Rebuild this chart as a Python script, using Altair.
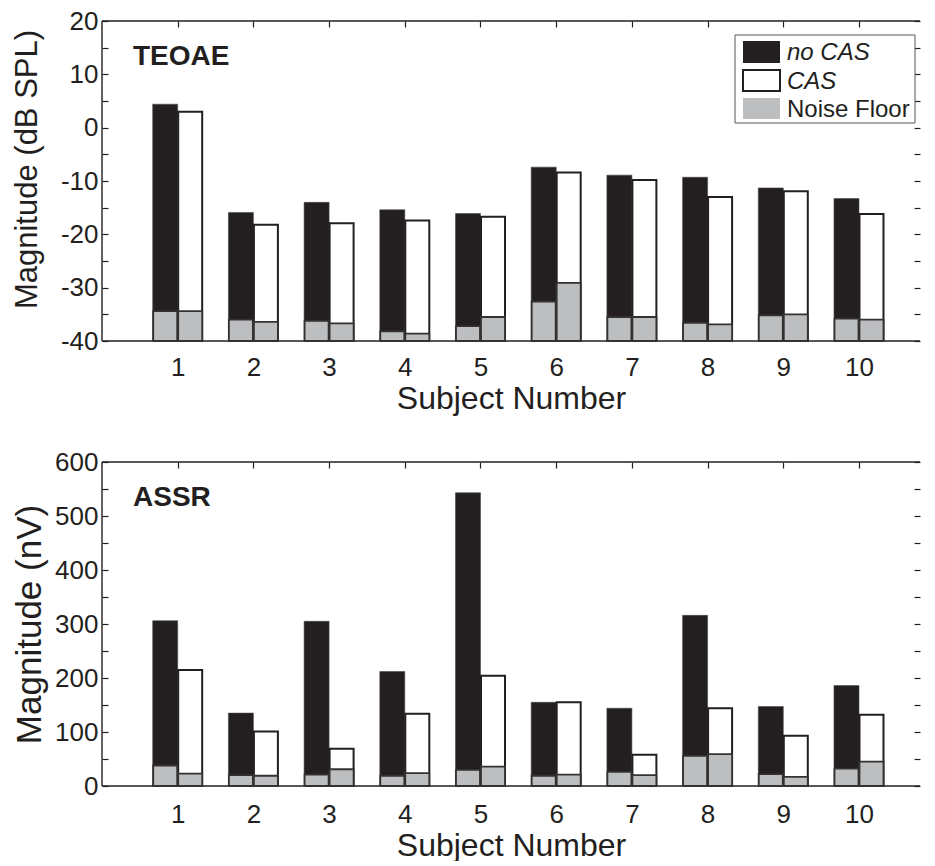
import altair as alt
import pandas as pd

subjects = [1, 2, 3, 4, 5, 6, 7, 8, 9, 10]

teoae_nocas = [4.4, -15.9, -14.0, -15.4, -16.1, -7.4, -8.9, -9.3, -11.3, -13.3]
teoae_cas = [3.0, -18.2, -17.9, -17.4, -16.7, -8.4, -9.8, -13.0, -11.9, -16.2]
teoae_noise_nocas = [-34.4, -36.0, -36.2, -38.2, -37.2, -32.6, -35.5, -36.6, -35.2, -35.8]
teoae_noise_cas = [-34.4, -36.4, -36.7, -38.6, -35.5, -29.1, -35.5, -36.9, -35.0, -36.0]

assr_nocas = [306, 135, 305, 212, 543, 155, 144, 316, 147, 186]
assr_cas = [215, 101, 69, 134, 204, 155, 58, 144, 93, 132]
assr_noise_nocas = [38, 20, 21, 19, 30, 19, 26, 56, 22, 32]
assr_noise_cas = [23, 19, 31, 24, 36, 21, 20, 59, 17, 45]

legend_labels = ["no CAS", "CAS", "Noise Floor"]
panel_labels = ["TEOAE", "ASSR"]
x_title = "Subject Number"
y_titles = ["Magnitude (dB SPL)", "Magnitude (nV)"]

BLACK = "#231f20"
GRAY = "#bcbec0"
FONT = "Liberation Sans"
W = 818
XMAX = 10.806
TICK = 6


def panel(nocas, cas, n_nocas, n_cas, ymin, ymax, step, lstep, height,
          ytitle, label, legend, label_pad, title_pad, ytitle_size,
          ytitle_pad, ytitle_y):
    df = pd.DataFrame({
        "subject": subjects, "nocas": nocas, "cas": cas,
        "n_nocas": n_nocas, "n_cas": n_cas,
    })
    yvals = list(range(ymin, ymax + 1, step))
    xscale = alt.Scale(domain=[0, XMAX], nice=False, zero=False, padding=0)
    yscale = alt.Scale(domain=[ymin, ymax], nice=False, zero=False)
    lexpr = f"datum.value % {lstep} == 0 ? toString(datum.value) : ''"

    ax_bottom = alt.Axis(values=subjects, title=x_title, orient="bottom",
                         offset=-TICK, tickSize=TICK, domain=False, grid=False,
                         labelPadding=label_pad, titlePadding=title_pad,
                         labelAngle=0)
    left_kw = dict(values=yvals, labelExpr=lexpr, title=ytitle,
                   orient="left", offset=-TICK, tickSize=TICK,
                   domain=False, grid=False, labelPadding=4,
                   titlePadding=ytitle_pad, titleFontSize=ytitle_size,
                   minExtent=56, maxExtent=56)
    if ytitle_y is not None:
        left_kw["titleY"] = ytitle_y
    ax_left = alt.Axis(**left_kw)
    ax_top = alt.Axis(values=subjects, labels=False, title=None, orient="top",
                      offset=-TICK, tickSize=TICK, domain=False, grid=False,
                      minExtent=0, maxExtent=0)
    ax_right = alt.Axis(values=yvals, labels=False, title=None, orient="right",
                        offset=-TICK, tickSize=TICK, domain=False, grid=False,
                        minExtent=0, maxExtent=0)

    base = alt.Chart(df)
    b1 = base.mark_bar(width=25, xOffset=-12.5, fill=BLACK, stroke="#4a4748",
                       strokeWidth=0.6).encode(
        x=alt.X("subject:Q", scale=xscale, axis=ax_bottom),
        y=alt.Y("nocas:Q", scale=yscale, axis=ax_left),
        y2=alt.datum(ymin),
    )
    b2 = base.mark_bar(width=24, xOffset=12.5, fill="white", stroke=BLACK,
                       strokeWidth=2).encode(
        x=alt.X("subject:Q", scale=xscale, axis=ax_top),
        y=alt.Y("cas:Q", scale=yscale, axis=ax_right),
        y2=alt.datum(ymin),
    )
    b3 = base.mark_bar(width=24, xOffset=-12.5, fill=GRAY, stroke="#333132",
                       strokeWidth=1.8).encode(
        x=alt.X("subject:Q", scale=xscale, axis=None),
        y=alt.Y("n_nocas:Q", scale=yscale, axis=None),
        y2=alt.datum(ymin),
    )
    b4 = base.mark_bar(width=24, xOffset=12.5, fill=GRAY, stroke="#333132",
                       strokeWidth=1.8).encode(
        x=alt.X("subject:Q", scale=xscale, axis=None),
        y=alt.Y("n_cas:Q", scale=yscale, axis=None),
        y2=alt.datum(ymin),
    )
    one = pd.DataFrame({"a": [0]})
    frame_top = alt.Chart(one).mark_rule(color=BLACK, strokeWidth=1.4).encode(
        x=alt.value(0), x2=alt.value(W), y=alt.value(0))
    frame_left = alt.Chart(one).mark_rule(color=BLACK, strokeWidth=1.4).encode(
        x=alt.value(0), y=alt.value(0), y2=alt.value(height))
    frame_bottom = alt.Chart(one).mark_rule(color=BLACK, strokeWidth=1.4).encode(
        x=alt.value(0), x2=alt.value(W), y=alt.value(height))

    txt = alt.Chart(pd.DataFrame({"t": [label]})).mark_text(
        align="left", baseline="alphabetic", font=FONT, fontSize=28,
        fontWeight="bold", color=BLACK
    ).encode(x=alt.value(31), y=alt.value(44), text="t:N")

    layers = [frame_top, frame_left, frame_bottom, b1, b2, b3, b4, txt]

    if legend:
        box = alt.Chart(one).mark_rect(
            fill="white", stroke="#555", strokeWidth=1
        ).encode(x=alt.value(633), x2=alt.value(813),
                 y=alt.value(14), y2=alt.value(102))
        layers.append(box)
        rows = [
            (legend_labels[0], BLACK, None, "italic", 20, 42),
            (legend_labels[1], "white", BLACK, "italic", 49, 70),
            (legend_labels[2], GRAY, None, "normal", 77, 98),
        ]
        for lab, fill, stroke, style, y1, y2 in rows:
            d = pd.DataFrame({"t": [lab]})
            kw = dict(fill=fill)
            if stroke:
                kw.update(stroke=stroke, strokeWidth=2)
            sw = alt.Chart(d).mark_rect(**kw).encode(
                x=alt.value(641), x2=alt.value(678),
                y=alt.value(y1), y2=alt.value(y2))
            tx = alt.Chart(d).mark_text(
                align="left", baseline="middle", font=FONT, fontSize=24,
                fontStyle=style, color=BLACK
            ).encode(x=alt.value(685), y=alt.value((y1 + y2) / 2 + 1),
                     text="t:N")
            layers += [sw, tx]

    return alt.layer(*layers).resolve_axis(
        x="independent", y="independent"
    ).properties(width=W, height=height)


top = panel(teoae_nocas, teoae_cas, teoae_noise_nocas, teoae_noise_cas,
            -40, 20, 5, 10, 320, y_titles[0], panel_labels[0], True, 13, 3,
            31, 9, 148)
bottom = panel(assr_nocas, assr_cas, assr_noise_nocas, assr_noise_cas,
               0, 600, 50, 100, 324, y_titles[1], panel_labels[1], False,
               15, 3, 35, 5, None)

chart = alt.vconcat(top, bottom, spacing=35).properties(
    padding={"left": 2, "top": 0, "right": 0, "bottom": 0}
).configure_view(
    stroke=None
).configure_axis(
    labelFont=FONT, labelFontSize=26, labelColor=BLACK,
    titleFont=FONT, titleFontSize=32, titleFontWeight="normal",
    titleColor=BLACK, tickColor=BLACK, tickWidth=1.2,
).configure_concat(spacing=35)

chart.save("out.html", embed_options={"renderer": "svg", "actions": False})
